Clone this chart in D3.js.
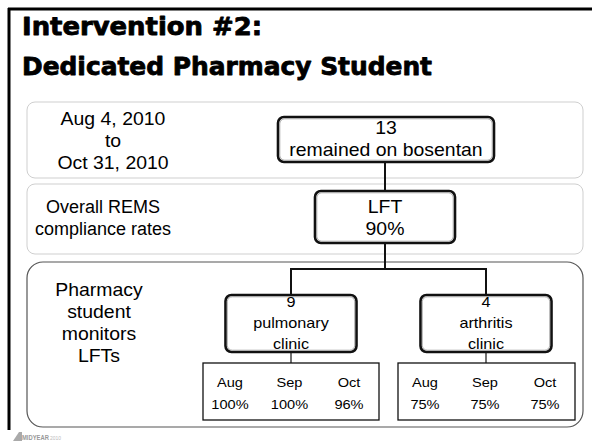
<!DOCTYPE html>
<html><head><meta charset="utf-8">
<script src="https://cdn.jsdelivr.net/npm/d3@7"></script>
<style>html,body{margin:0;padding:0;background:#fff;}svg{display:block;}</style>
</head><body>
<svg id="c" width="592" height="444"></svg>
<script>
// ---- data ----
const titleLines = ["Intervention #2:", "Dedicated Pharmacy Student"];
const periodLabel = ["Aug 4, 2010", "to", "Oct 31, 2010"];
const complianceLabel = ["Overall REMS", "compliance rates"];
const monitorLabel = ["Pharmacy", "student", "monitors", "LFTs"];
const totalOnBosentan = 13;
const totalText = "remained on bosentan";
const overallMeasure = "LFT";
const overallRate = 90;
const clinics = ["pulmonary", "arthritis"];
const clinicCounts = [9, 4];
const months = ["Aug", "Sep", "Oct"];
const pulmonaryRates = [100, 100, 96];
const arthritisRates = [75, 75, 75];
const clinicRates = [pulmonaryRates, arthritisRates];

// ---- drawing ----
const svg = d3.select("#c");
const FONT = "'Liberation Sans', Arial, sans-serif";
const SX = 1.08;

function txt(g, x, y, s, size, opts = {}) {
  return g.append("text")
    .attr("transform", `translate(${x},${y}) scale(${opts.sx || SX},1)`)
    .attr("text-anchor", opts.anchor || "middle")
    .attr("font-family", opts.family || FONT)
    .attr("font-size", size)
    .attr("font-weight", opts.weight || "normal")
    .attr("fill", opts.fill || "#000")
    .text(s);
}

// frame
svg.append("line").attr("x1", 8).attr("x2", 592).attr("y1", 9).attr("y2", 9).attr("stroke", "#000").attr("stroke-width", 3);
svg.append("line").attr("x1", 9).attr("x2", 9).attr("y1", 8).attr("y2", 430).attr("stroke", "#000").attr("stroke-width", 3);

// title
const titleWidths = [240, 410];
titleLines.forEach((t, i) => {
  svg.append("text")
    .attr("x", 22).attr("y", 35 + i * 40)
    .attr("font-family", "'DejaVu Sans', sans-serif")
    .attr("font-weight", "bold").attr("font-size", 24)
    .attr("textLength", titleWidths[i]).attr("lengthAdjust", "spacingAndGlyphs")
    .attr("fill", "#000").attr("stroke", "#000").attr("stroke-width", 0.8).attr("stroke-linejoin", "round")
    .text(t);
});

// row panels
const rows = [
  {y: 102, h: 76, rx: 8, stroke: "#cfcfcf", sw: 1},
  {y: 184, h: 70, rx: 8, stroke: "#cfcfcf", sw: 1},
  {y: 262, h: 165, rx: 16, stroke: "#555", sw: 1.2}
];
svg.selectAll("rect.row").data(rows).join("rect").attr("class", "row")
  .attr("x", 27).attr("width", 556)
  .attr("y", d => d.y).attr("height", d => d.h)
  .attr("rx", d => d.rx)
  .attr("fill", "#fff").attr("stroke", d => d.stroke).attr("stroke-width", d => d.sw);

// left labels
periodLabel.forEach((t, i) => txt(svg, 113, 125 + i * 22, t, 18));
complianceLabel.forEach((t, i) => txt(svg, 103, 213 + i * 22, t, 18, {sx: 1.0}));
monitorLabel.forEach((t, i) => txt(svg, 99, 296 + i * 22, t, 18));

// connectors
const lineG = svg.append("g").attr("stroke", "#111").attr("stroke-width", 2).attr("fill", "none");
const clinicX = d3.scalePoint().domain(clinics).range([291, 486]);
lineG.append("line").attr("x1", 385).attr("x2", 385).attr("y1", 162).attr("y2", 191);
lineG.append("path").attr("d",
  `M385,243 V269 M${clinicX(clinics[0])},295 V269 H${clinicX(clinics[1])} V295`);
clinics.forEach(c => {
  lineG.append("line").attr("x1", clinicX(c)).attr("x2", clinicX(c)).attr("y1", 352).attr("y2", 363).attr("stroke-width", 1.2);
});

function nodeBox(x, y, w, h) {
  svg.append("rect").attr("x", x).attr("y", y).attr("width", w).attr("height", h)
    .attr("rx", 6).attr("fill", "#fff").attr("stroke", "#111").attr("stroke-width", 2.6);
  svg.append("rect").attr("x", x + 1.8).attr("y", y + 1.8).attr("width", w - 3.6).attr("height", h - 3.6)
    .attr("rx", 5).attr("fill", "none").attr("stroke", "#999").attr("stroke-width", 0.8);
}

// top node
nodeBox(278, 117, 216, 45);
txt(svg, 386, 134, String(totalOnBosentan), 18);
txt(svg, 386, 156, totalText, 18);

// overall node
nodeBox(315, 191, 140, 52);
txt(svg, 385, 213, overallMeasure, 18);
txt(svg, 385, 235, overallRate + "%", 18);

// clinic nodes
const boxW = 131;
clinics.forEach((c, i) => {
  const cx = clinicX(c);
  nodeBox(cx - boxW / 2, 295, boxW, 57);
  txt(svg, cx, 307, String(clinicCounts[i]), 15);
  txt(svg, cx, 328, c, 15);
  txt(svg, cx, 349, "clinic", 15);
});

// month tables
const tables = [{x0: 203, x1: 379}, {x0: 398, x1: 575}];
tables.forEach((t, i) => {
  svg.append("rect").attr("x", t.x0).attr("y", 363).attr("width", t.x1 - t.x0).attr("height", 57)
    .attr("fill", "#fff").attr("stroke", "#111").attr("stroke-width", 1.3);
  const mx = d3.scalePoint().domain(months).range([t.x0 + 27, t.x1 - 30]);
  months.forEach((m, j) => {
    txt(svg, mx(m), 387, m, 13.5);
    txt(svg, mx(m), 409, clinicRates[i][j] + "%", 13.5);
  });
});

// footer logo
const logo = svg.append("g");
logo.append("path").attr("d", "M13,441 L19,432 L22,432 L22,441 Z").attr("fill", "#aaa");
txt(logo, 22, 440, "MIDYEAR", 6.5, {anchor: "start", weight: "bold", fill: "#999", sx: 0.9});
txt(logo, 50, 440, "2010", 5.5, {anchor: "start", fill: "#bbb", sx: 0.9});
</script>
</body></html>
